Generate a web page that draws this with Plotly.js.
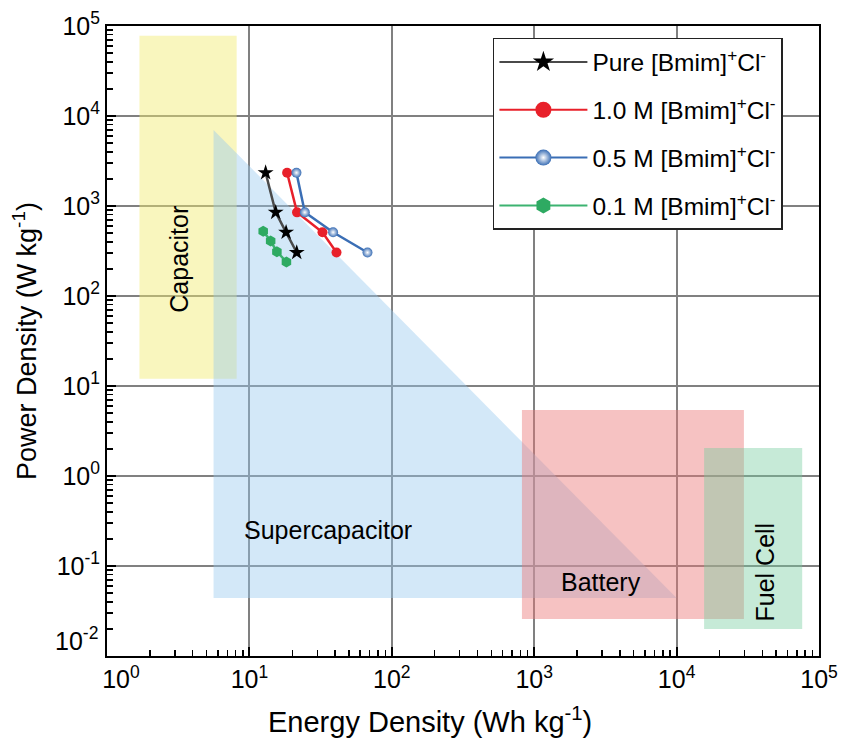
<!DOCTYPE html>
<html>
<head>
<meta charset="utf-8">
<script src="https://cdn.plot.ly/plotly-3.0.1.min.js"></script>
<style>html,body{margin:0;padding:0;background:#fff;}#chart{width:851px;height:740px;}</style>
</head>
<body>
<div id="chart"></div>
<script>
// ---- Data ----
// Series: energy density (Wh/kg) and power density (W/kg)
var pureEnergy = [13.0, 15.3, 18.1, 21.5];
var purePower  = [2340, 850, 510, 304];
var m10Energy  = [18.4, 21.6, 32.6, 40.9];
var m10Power   = [2340, 850, 510, 304];
var m05Energy  = [21.4, 24.5, 38.7, 67.5];
var m05Power   = [2340, 850, 510, 304];
var m01Energy  = [12.5, 14.1, 15.6, 18.2];
var m01Power   = [524, 408, 311, 239];

var seriesNames = [
  "Pure [Bmim]<sup>+</sup>Cl<sup>-</sup>",
  "1.0 M [Bmim]<sup>+</sup>Cl<sup>-</sup>",
  "0.5 M [Bmim]<sup>+</sup>Cl<sup>-</sup>",
  "0.1 M [Bmim]<sup>+</sup>Cl<sup>-</sup>"
];

// Ragone regions: [min, max] ranges
var capacitorEnergy = [1.69, 8.14];
var capacitorPower  = [12.0, 78000];
var superEnergy     = [5.6, 5.6, 10000];   // polygon vertices
var superPower      = [7000, 0.044, 0.044];
var batteryEnergy   = [820, 29700];
var batteryPower    = [0.0258, 5.4];
var fuelEnergy      = [15600, 76200];
var fuelPower       = [0.02, 2.05];

var regionLabels = ["Capacitor", "Supercapacitor", "Battery", "Fuel Cell"];
var xTitle = 'Energy Density (Wh kg<sup>-1</sup>)';
var yTitle = 'Power Density (W kg<sup>-1</sup>)';

var tickVals = [1, 10, 100, 1000, 10000, 100000];
var xTickText = ["\u00a0\u00a0\u00a0\u00a010<sup>0</sup>","10<sup>1</sup>","10<sup>2</sup>","10<sup>3</sup>","10<sup>4</sup>","10<sup>5</sup>"];
var yTickVals = [0.01, 0.1, 1, 10, 100, 1000, 10000, 100000];
var yTickText = ["","10<sup>-1</sup>","10<sup>0</sup>","10<sup>1</sup>","10<sup>2</sup>","10<sup>3</sup>","10<sup>4</sup>","10<sup>5</sup>"];
var yCornerLabel = "10<sup>-2</sup>";

// ---- Build ----
function rect(xr, yr) {
  return {x: [xr[0], xr[1], xr[1], xr[0], xr[0]], y: [yr[0], yr[0], yr[1], yr[1], yr[0]]};
}
function closePoly(xs, ys) {
  return {x: xs.concat([xs[0]]), y: ys.concat([ys[0]])};
}
function regionTrace(p, color) {
  return {x: p.x, y: p.y, type: 'scatter', mode: 'lines', fill: 'toself',
    fillcolor: color, line: {width: 0, color: 'rgba(0,0,0,0)'}, hoverinfo: 'skip', showlegend: false};
}
function minorVals(lo, hi) {
  var v = [];
  for (var e = lo; e < hi; e++) for (var k = 2; k <= 9; k++) v.push(k * Math.pow(10, e));
  return v;
}

var styles = [
  {line: {color: '#4a4a4a', width: 2.5}, marker: {symbol: 'star', size: 12, color: '#000'}},
  {line: {color: '#e8202a', width: 2.5}, marker: {symbol: 'circle', size: 10, color: '#e8202a'}},
  {line: {color: '#3a6eb5', width: 2.5}, marker: {symbol: 'circle', size: 10, color: '#3a6eb5', gradient: {type: 'radial', color: '#ffffff'}}},
  {line: {color: '#3cb371', width: 2.5}, marker: {symbol: 'hexagon', size: 11, color: '#2eaa62'}}
];
var seriesX = [pureEnergy, m10Energy, m05Energy, m01Energy];
var seriesY = [purePower, m10Power, m05Power, m01Power];

var traces = [
  regionTrace(rect(capacitorEnergy, capacitorPower), 'rgba(242,236,110,0.45)'),
  regionTrace(closePoly(superEnergy, superPower), 'rgba(150,200,238,0.42)'),
  regionTrace(rect(batteryEnergy, batteryPower), 'rgba(235,120,120,0.45)'),
  regionTrace(rect(fuelEnergy, fuelPower), 'rgba(120,205,160,0.42)')
];
for (var i = 0; i < 4; i++) {
  traces.push({x: seriesX[i], y: seriesY[i], name: seriesNames[i], type: 'scatter', mode: 'lines+markers',
    line: styles[i].line, marker: styles[i].marker, showlegend: false, legendgroup: 'g' + i});
}
// legend entries (bigger symbols, no data of their own)
for (var j = 0; j < 4; j++) {
  var lm = Object.assign({}, styles[j].marker, {size: 16});
  traces.push({x: [null], y: [null], name: seriesNames[j], type: 'scatter', mode: 'lines+markers',
    line: {color: styles[j].line.color, width: 2}, marker: lm, showlegend: true, legendgroup: 'g' + j});
}

var font = 'Liberation Sans, Arial, sans-serif';
var axisCommon = {
  type: 'log', showline: true, linecolor: '#000', linewidth: 2, mirror: true,
  showgrid: true, gridcolor: '#808080', gridwidth: 2, zeroline: false,
  ticks: 'inside', ticklen: 9, tickwidth: 2, tickcolor: '#000',
  tickmode: 'array', tickfont: {family: font, size: 25, color: '#000'}
};

function label(x, y, text, angle, size, xa) {
  return {xref: 'paper', yref: 'paper', x: x, y: y, xanchor: xa || 'center', yanchor: 'middle',
    text: text, showarrow: false, textangle: angle, font: {family: font, size: size, color: '#000'}};
}

var layout = {
  width: 851, height: 740,
  margin: {l: 107, r: 32, t: 26, b: 84},
  paper_bgcolor: '#fff', plot_bgcolor: '#fff',
  font: {family: font, color: '#000'},
  showlegend: true,
  legend: {x: 0.542, y: 0.981, xanchor: 'left', yanchor: 'top',
    bgcolor: '#fff', bordercolor: '#222', borderwidth: 1.5, itemwidth: 88,
    font: {family: font, size: 24.5, color: '#000'}, tracegroupgap: 13, itemsizing: 'trace'},
  xaxis: Object.assign({}, axisCommon, {
    range: [0, 5], tickvals: tickVals, ticktext: xTickText,
    minor: {ticks: 'inside', ticklen: 6, tickwidth: 1.5, tickcolor: '#000', showgrid: false, tickvals: minorVals(0, 5)}
  }),
  yaxis: Object.assign({}, axisCommon, {
    range: [-2, 5], tickvals: yTickVals, ticktext: yTickText,
    minor: {ticks: 'inside', ticklen: 6, tickwidth: 1.5, tickcolor: '#000', showgrid: false, tickvals: minorVals(-2, 5)},
    title: {text: yTitle, font: {family: font, size: 27, color: '#000'}, standoff: 12}
  }),
  annotations: [
    label(0.453, -0.1016, xTitle, 0, 29),
    label(-0.0098, 0.027, yCornerLabel, 0, 25, 'right'),
    label(0.1006, 0.630, regionLabels[0], -90, 25),
    label(0.310, 0.200, regionLabels[1], 0, 25),
    label(0.694, 0.117, regionLabels[2], 0, 25),
    label(0.924, 0.134, regionLabels[3], -90, 25)
  ]
};

Plotly.newPlot('chart', traces, layout, {displayModeBar: false, staticPlot: true});
</script>
</body>
</html>
